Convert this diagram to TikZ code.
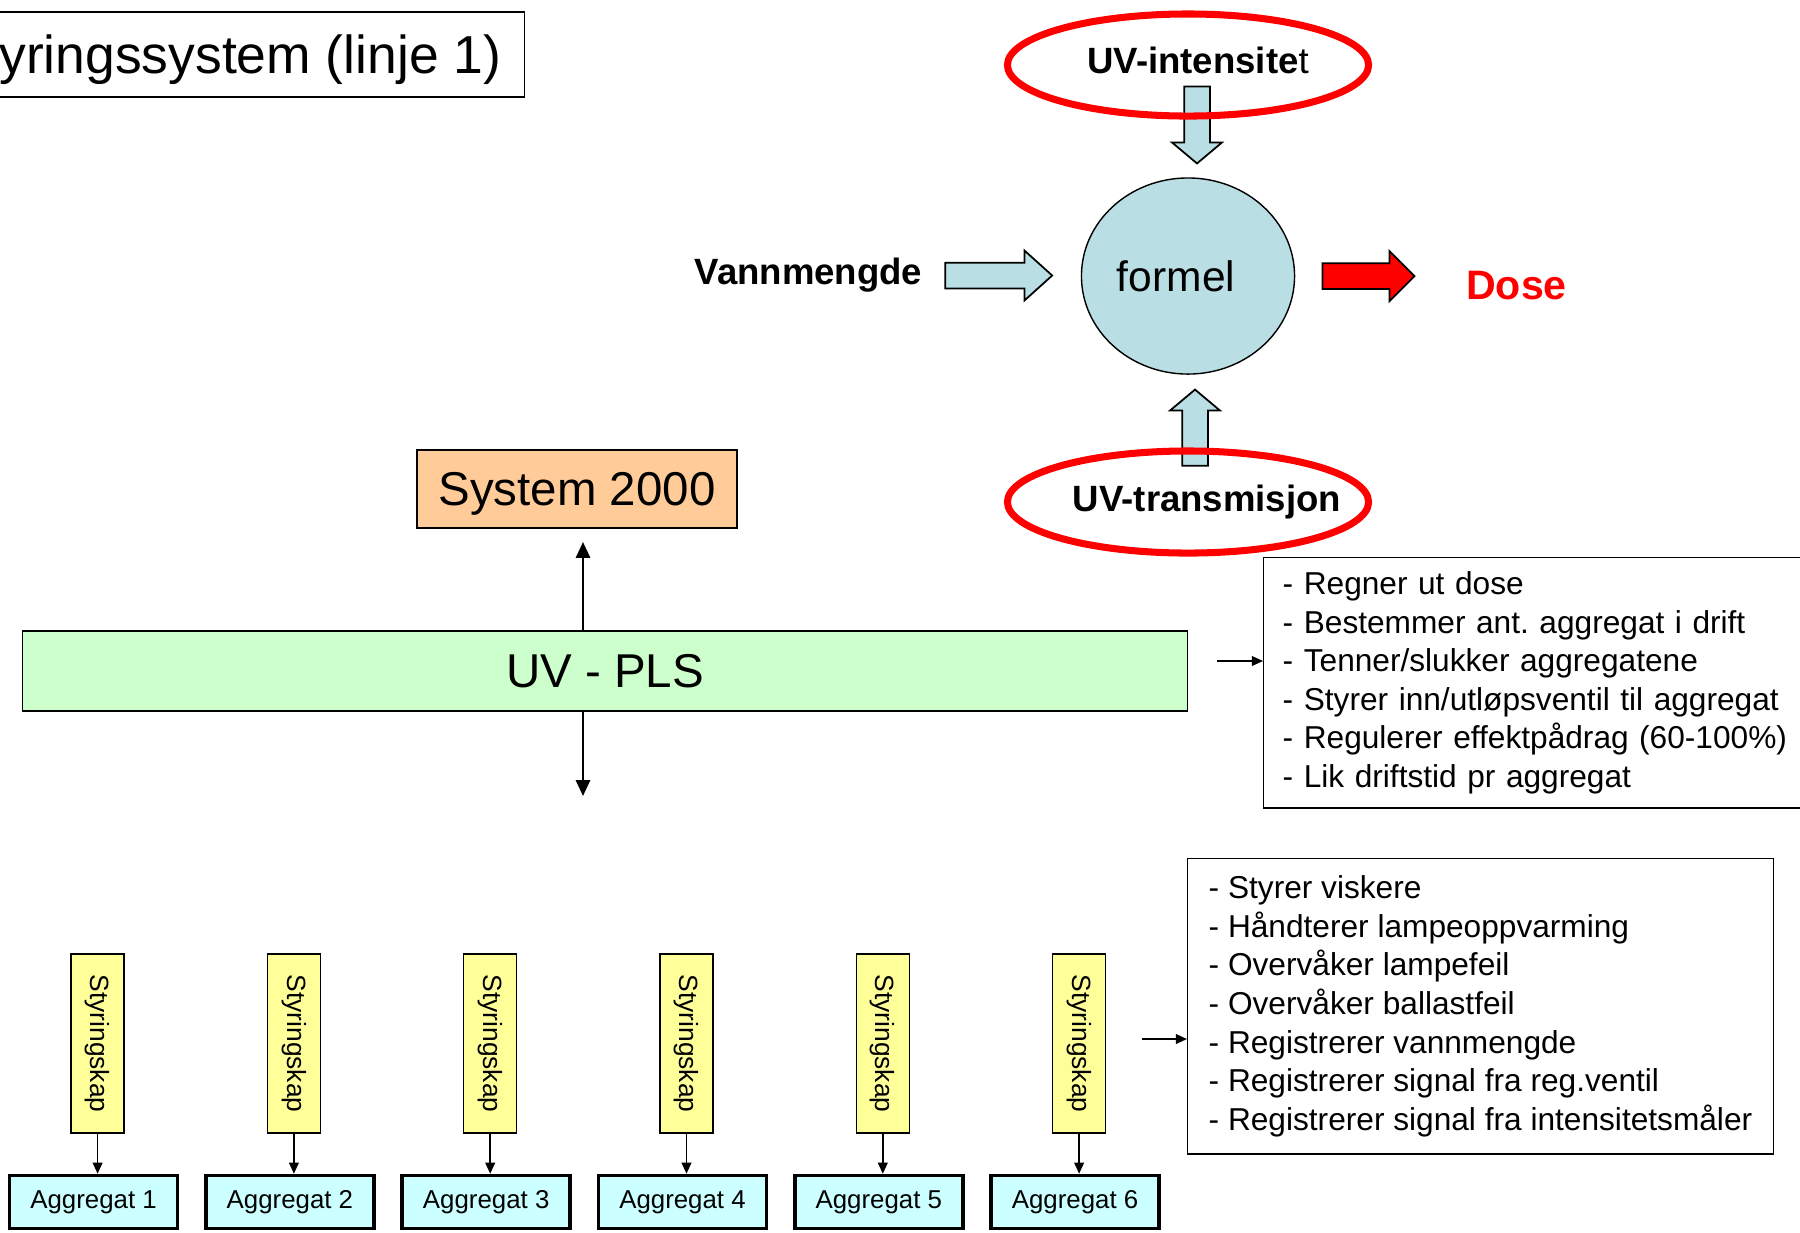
\documentclass[tikz,border=0pt]{standalone}
\usepackage{fontspec}
\setmainfont{Liberation Sans}
\usetikzlibrary{shapes.geometric}
\usetikzlibrary{shapes.arrows}
\usetikzlibrary{arrows.meta}
\usetikzlibrary{positioning}

\definecolor{aqua}{RGB}{185,223,228}
\definecolor{peach}{RGB}{255,204,153}
\definecolor{mint}{RGB}{204,255,204}
\definecolor{lemon}{RGB}{255,255,153}
\definecolor{ice}{RGB}{204,255,255}

\begin{document}
\frenchspacing
\begin{tikzpicture}[x=0.01cm,y=-0.01cm,
        box/.style={draw, inner sep=0pt},
        ring/.style={ellipse, draw=red, line width=2pt, minimum width=3.61cm, minimum height=1.02cm},
        bold/.style={font=\fontsize{10.4}{12}\selectfont\bfseries},
        fatarrow/.style={single arrow, draw, line width=0.5pt, inner xsep=0pt, inner ysep=0.12cm, single arrow head extend=0.12cm},
        link/.style={-{Triangle[length=4.5pt,width=4pt]}, line width=0.7pt},
        sublink/.style={-{Triangle[length=3.2pt,width=2.8pt]}, line width=0.45pt},
        skap/.style={box, fill=lemon, rotate=-90, minimum width=1.79cm, minimum height=0.53cm, font=\fontsize{7.5}{9}\selectfont},
        agg/.style={box, fill=ice, line width=1pt, minimum width=1.68cm, minimum height=0.53cm, font=\fontsize{7.35}{9}\selectfont},
        infobox/.style={draw, align=left, anchor=north west, inner ysep=0pt, font=\fontsize{9}{10.95}\selectfont}]
    \useasboundingbox (0,0) rectangle (1800,1232);

    \node[box, anchor=east, minimum height=0.85cm, inner xsep=0.23cm, text depth=0pt, font=\fontsize{15.2}{18}\selectfont] (title) at (525,54.5) {Styringssystem (linje 1)};

    % dose formel
    \node[ellipse, draw, fill=aqua, inner sep=0pt, minimum width=2.13cm, minimum height=1.96cm, font=\fontsize{12.1}{14}\selectfont] (formel) at (1188,276) {formel\kern0.24cm};
    \node[bold, text depth=0pt] (vann) at (808.5,271) {Vannmengde};
    \node[bold, text=red, font=\fontsize{11.7}{14}\selectfont\bfseries] (dose) at (1516.5,286) {Dose};
    \node[fatarrow, fill=aqua, minimum height=1.07cm, single arrow tip angle=84] (vannpil) at (991.5,275.5) {};
    \node[fatarrow, fill=red, minimum height=0.92cm, single arrow tip angle=90] (dosepil) at (1362,276) {};
    \node[fatarrow, fill=aqua, rotate=-90, minimum height=0.77cm, single arrow tip angle=100] (intenpil) at (1197,119.5) {};
    \node[fatarrow, fill=aqua, rotate=90, minimum height=0.76cm, single arrow tip angle=100] (transpil) at (1195,433) {};
    \node[ring] (inten) at (1188,65) {};
    \node[bold] (intentxt) at (1198,60) {UV-intensite\mdseries t};
    \node[ring] (trans) at (1188,502) {};
    \node[bold, text depth=0pt] (transtxt) at (1207,498) {UV-transmisjon};

    % PLS
    \node[box, fill=peach, minimum width=3.2cm, minimum height=0.78cm, text depth=0pt, font=\fontsize{13.5}{16}\selectfont] (sys) at (577,489) {System 2000};
    \node[box, fill=mint, minimum width=11.64cm, minimum height=0.8cm, font=\fontsize{13.5}{16}\selectfont] (pls) at (605,671) {UV - PLS};
    \coordinate (up) at (583,542);
    \coordinate (dn) at (583,796);
    \draw[link] (pls.north -| up) -- (up);
    \draw[link] (pls.south -| dn) -- (dn);

    \node[infobox, text width=5.6cm, minimum height=2.5cm, inner xsep=0.19cm] (tasks) at (1263,557) {- Regner ut dose\\- Bestemmer ant. aggregat i drift\\- Tenner/slukker aggregatene\\- Styrer inn/utløpsventil til aggregat\\- Regulerer effektpådrag (60-100\%)\\- Lik driftstid pr aggregat};
    \coordinate (t1) at (1217,661);
    \draw[sublink] (t1) -- (t1 -| tasks.west);

    \node[infobox, minimum height=2.95cm, inner xsep=0.21cm] (local) at (1187,858) {- Styrer viskere\\- Håndterer lampeoppvarming\\- Overvåker lampefeil\\- Overvåker ballastfeil\\- Registrerer vannmengde\\- Registrerer signal fra reg.ventil\\- Registrerer signal fra intensitetsmåler};
    \coordinate (t2) at (1142,1039);
    \draw[sublink] (t2) -- (t2 -| local.west);

    \foreach \i in {1,...,6} {
        \node[skap] (s\i) at ({97.6+(\i-1)*196.3},1043.5) {Styringskap};
        \node[agg] (a\i) at ({93.6+(\i-1)*196.3},1202) {Aggregat \i};
        \draw[sublink] (s\i.east) -- (s\i.east |- a\i.north);
    }
\end{tikzpicture}
\end{document}
